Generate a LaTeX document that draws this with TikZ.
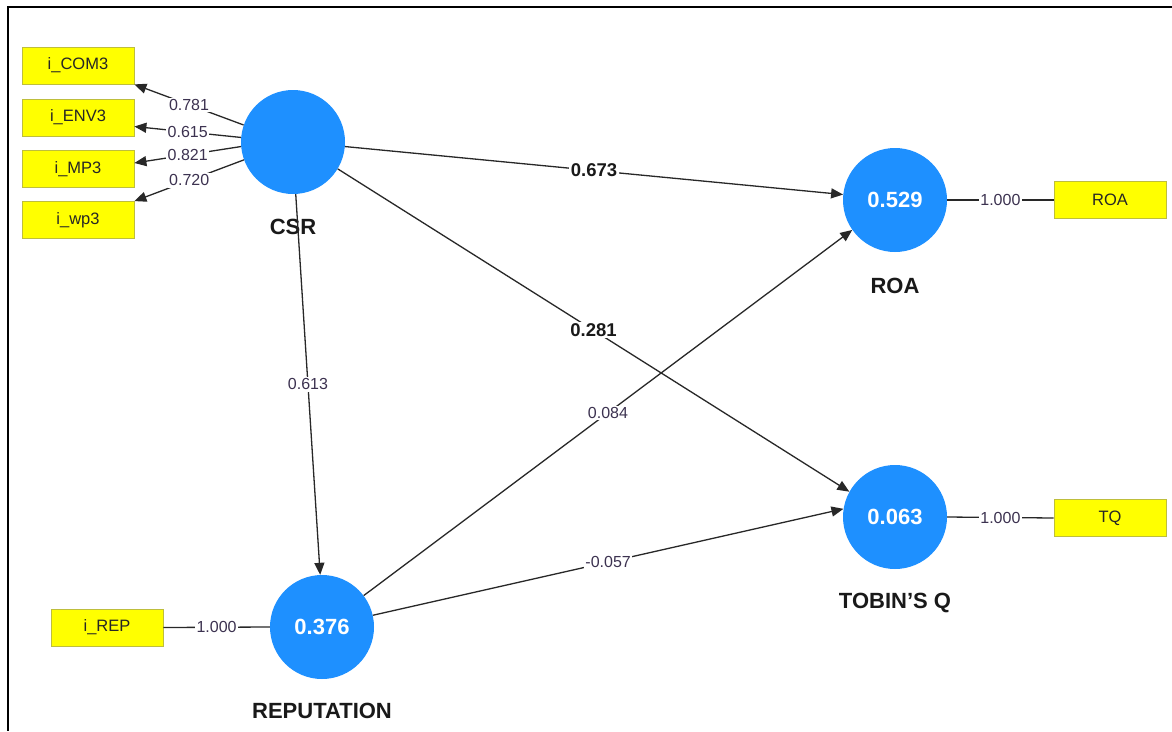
\documentclass[tikz,border=0pt]{standalone}
\usepackage{fontspec}
\setmainfont{Liberation Sans}
\usetikzlibrary{arrows.meta,calc}
\definecolor{latblue}{RGB}{30,144,255}
\definecolor{indyel}{RGB}{255,255,0}
\definecolor{indedge}{RGB}{190,190,60}
\definecolor{numcol}{RGB}{60,50,80}
\definecolor{linecol}{RGB}{40,40,40}
\begin{document}
\begin{tikzpicture}[x=1pt,y=-1pt,
  lat/.style={circle,fill=latblue,draw=none,minimum size=104pt,inner sep=0pt,
    text=white,font=\fontsize{22}{22}\selectfont\bfseries},
  ind/.style={rectangle,fill=indyel,draw=indedge,line width=0.8pt,minimum width=112pt,
    minimum height=37pt,inner sep=0pt,font=\fontsize{16.5}{16.5}\selectfont,text=black!85},
  latname/.style={font=\fontsize{22}{22}\selectfont\bfseries,text=black!90},
  conn/.style={draw=linecol,line width=1.3pt},
  arr/.style={conn,-{Triangle[length=12pt,width=10pt]}},
  num/.style={fill=white,inner sep=1.5pt,font=\fontsize{16}{16}\selectfont,text=numcol},
  bnum/.style={fill=white,inner sep=1.5pt,font=\fontsize{18.5}{18.5}\selectfont\bfseries,text=black!90}]
\useasboundingbox (0,0) rectangle (1172,731);
\fill[white] (0,0) rectangle (1172,731);
% frame
\draw[black,line width=2pt] (1172,7) -- (8,7) -- (8,731);

% latent variables
\node[lat] (csr) at (293,142) {};
\node[lat] (roa) at (895,200) {0.529};
\node[lat] (tq)  at (895,517) {0.063};
\node[lat] (rep) at (322,627) {0.376};

\node[latname] (csrname) at (293,227) {CSR};
\node[latname] (roaname) at (895,286) {ROA};
\node[latname] (tqname)  at (895,603) {TOBIN{\char"0027}S Q};
\node[latname] (repname) at (322,711) {REPUTATION};

% indicators
\node[ind] (com3) at (78,65.5) {i\_COM3};
\node[ind] (env3) at (78,117.5) {i\_ENV3};
\node[ind] (mp3)  at (78,169) {i\_MP3};
\node[ind] (wp3)  at (78,220) {i\_wp3};
\node[ind] (roabox) at (1110,200) {ROA};
\node[ind] (tqbox)  at (1110,518) {TQ};
\node[ind] (irep)   at (107,627.5) {i\_REP};

% outer loadings
\draw[arr] (csr.161) -- node[num,pos=0.5] {0.781} (com3.south east);
\draw[arr] (csr.175) -- node[num,pos=0.5] {0.615} ($(env3.east)+(0,9)$);
\draw[arr] (csr.185) -- node[num,pos=0.5] {0.821} ($(mp3.east)+(0,-6)$);
\draw[arr] (csr.200) -- node[num,pos=0.5] {0.720} (wp3.north east);

\draw[conn] (roa.east) -- node[num] {1.000} (roabox.west);
\draw[conn] (tq.east) -- node[num] {1.000} (tqbox.west);
\draw[conn] (irep.east) -- node[num] {1.000} (rep.west);

% path coefficients
\draw[arr] (csr.-5) -- node[bnum] {0.673} (roa.174);
\draw[arr] (csr.-31) -- node[bnum] {0.281} (tq.151);
\draw[arr] (csr.-87) -- node[num] {0.613} (rep.92);
\draw[arr] (rep.37) -- node[num] {0.084} (roa.215);
\draw[arr] (rep.13) -- node[num] {-0.057} (tq.171);
\end{tikzpicture}
\end{document}
